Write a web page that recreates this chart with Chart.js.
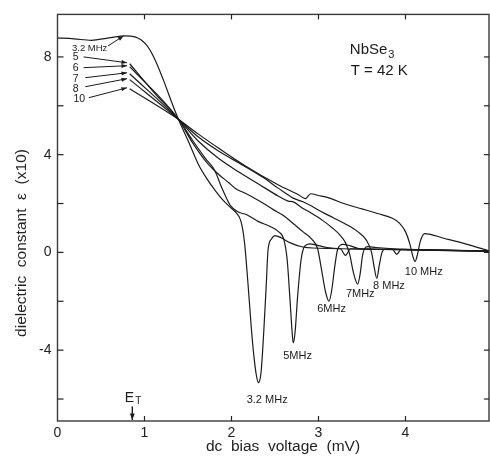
<!DOCTYPE html>
<html><head><meta charset="utf-8">
<script src="https://cdn.jsdelivr.net/npm/chart.js@4/dist/chart.umd.min.js"></script>
<style>html,body{margin:0;padding:0;background:#fff;}canvas{display:block;}</style>
</head><body>
<canvas id="c" width="490" height="462" style="width:490px;height:462px"></canvas>
<script>
// ---- data ----
const seriesNames = ['3.2 MHz','5 MHz','6 MHz','7 MHz','8 MHz','10 MHz'];

const x32 = [0,0.19,0.39,0.59,0.78,0.89,1.01,1.11,1.22,1.30,1.39,1.51,1.62,1.72,1.82,1.90,1.99,2.06,2.11,2.15,2.19,2.24,2.28,2.31,2.34,2.37,2.40,2.42,2.46,2.50,2.57,2.67,2.82,3.10,3.25,3.31,3.37,3.70,4.30,4.96];
const y32 = [8.78,8.74,8.68,8.78,8.86,8.82,8.54,7.97,7.03,6.26,5.45,4.50,3.60,3.00,2.50,2.15,1.83,1.60,1.26,0.40,-1.30,-3.60,-4.90,-5.33,-4.90,-3.30,-1.30,0.10,0.55,0.69,0.60,0.40,0.22,0.16,0.15,-0.12,0.15,0.12,0.10,0.06];

const x5 = [0.83,1.11,1.39,1.55,1.70,1.80,1.90,1.99,2.08,2.17,2.31,2.45,2.54,2.60,2.64,2.67,2.70,2.71,2.73,2.76,2.80,2.84,2.90,2.98,3.10,3.50,3.85,3.90,3.95,4.40,4.96];
const y5 = [7.72,6.54,5.45,4.60,3.85,3.40,2.55,1.90,1.65,1.55,1.26,1.05,0.85,0.55,-0.30,-1.80,-3.40,-3.70,-3.30,-1.80,-0.30,0.25,0.35,0.30,0.20,0.13,0.12,-0.08,0.12,0.09,0.05];

const x6 = [0.83,1.39,1.55,1.70,1.85,1.97,2.05,2.14,2.25,2.37,2.48,2.60,2.72,2.82,2.92,2.99,3.03,3.08,3.12,3.15,3.19,3.22,3.28,3.36,3.46,4.00,4.96];
const y6 = [7.60,5.45,4.50,3.75,3.20,2.85,2.60,2.45,2.25,2.00,1.75,1.50,1.15,0.85,0.55,0.15,-0.60,-1.60,-2.00,-1.60,-0.50,0.12,0.33,0.28,0.16,0.11,0.05];

const x7 = [0.83,1.39,1.62,1.85,2.08,2.31,2.54,2.65,2.71,2.80,2.92,3.05,3.16,3.25,3.31,3.36,3.40,3.45,3.48,3.51,3.57,3.66,4.00,4.96];
const y7 = [7.31,5.45,4.55,3.85,3.30,2.80,2.30,2.10,2.07,1.85,1.60,1.30,1.00,0.70,0.40,-0.10,-0.80,-1.30,-0.85,-0.05,0.24,0.20,0.12,0.05];

const x8 = [0.83,1.39,1.62,1.85,2.14,2.37,2.54,2.71,2.82,2.92,3.03,3.17,3.30,3.45,3.55,3.61,3.64,3.67,3.70,3.73,3.77,3.90,4.96];
const y8 = [7.07,5.45,4.72,4.15,3.55,3.05,2.62,2.22,2.07,1.90,1.67,1.42,1.18,0.85,0.50,0.00,-0.60,-1.06,-0.50,0.00,0.14,0.12,0.05];

const x10 = [0.83,1.39,1.62,1.85,2.16,2.54,2.77,2.85,2.91,3.00,3.11,3.30,3.50,3.68,3.85,3.93,4.00,4.05,4.08,4.11,4.14,4.17,4.22,4.45,4.71,4.96];
const y10 = [6.70,5.45,4.84,4.27,3.54,2.76,2.36,2.20,2.40,2.33,2.24,1.99,1.78,1.59,1.40,1.20,0.85,0.35,-0.10,-0.37,-0.05,0.45,0.77,0.57,0.33,0.06];

const xTickValues = [0,1,2,3,4];
const yTickValues = [-6,-4,-2,0,2,4,6,8];
const yLabelled = [-4,0,4,8];

// annotations (data coordinates)
const startLabels = ['3.2 MHz','5','6','7','8','10'];
const startLabelX = [0.37,0.21,0.21,0.21,0.21,0.25];
const startLabelY = [8.33,8.00,7.56,7.11,6.70,6.29];
const arrowFromX = [0.58,0.30,0.30,0.32,0.32,0.36];
const arrowFromY = [8.45,8.00,7.56,7.15,6.78,6.33];
const arrowToX = [0.76,0.80,0.80,0.80,0.80,0.80];
const arrowToY = [8.86,7.76,7.64,7.35,7.11,6.74];

const dipLabels = ['3.2 MHz','5MHz','6MHz','7MHz','8 MHz','10 MHz'];
const dipLabelX = [2.41,2.76,3.15,3.48,3.81,4.21];
const dipLabelY = [-6.05,-4.25,-2.30,-1.69,-1.36,-0.79];

const xs = [x32,x5,x6,x7,x8,x10];
const ys = [y32,y5,y6,y7,y8,y10];

const datasets = seriesNames.map((n,i)=>({
  label:n,
  data: xs[i].map((x,j)=>({x:x,y:ys[i][j]})),
  showLine:true, borderColor:'#1b1b1b', borderWidth:1.2,
  pointRadius:0, fill:false, cubicInterpolationMode:'monotone'
}));

const FONT = "'Liberation Sans', Arial, sans-serif";

function arrow(ctx,x1,y1,x2,y2,head){
  ctx.beginPath(); ctx.moveTo(x1,y1); ctx.lineTo(x2,y2); ctx.stroke();
  const a=Math.atan2(y2-y1,x2-x1);
  ctx.beginPath();
  ctx.moveTo(x2,y2);
  ctx.lineTo(x2-head*Math.cos(a-0.35),y2-head*Math.sin(a-0.35));
  ctx.lineTo(x2-head*Math.cos(a+0.35),y2-head*Math.sin(a+0.35));
  ctx.closePath(); ctx.fill();
}

const framePlugin = {
  id:'frame',
  afterDatasetsDraw(chart){
    const {ctx, chartArea:{left,right,top,bottom}, scales:{x,y}} = chart;
    ctx.save();
    ctx.strokeStyle='#3a3a3a'; ctx.lineWidth=1.4;
    ctx.strokeRect(left,top,right-left,bottom-top);
    ctx.lineWidth=1.2; ctx.strokeStyle='#222';
    const ln=(a,b,c,d)=>{ctx.beginPath();ctx.moveTo(a,b);ctx.lineTo(c,d);ctx.stroke();};
    xTickValues.forEach(v=>{ if(v===0) return; const p=x.getPixelForValue(v); ln(p,bottom,p,bottom-5); ln(p,top,p,top+5);});
    yTickValues.forEach(v=>{ const p=y.getPixelForValue(v); ln(left,p,left+6,p); ln(right,p,right-5,p);});

    ctx.fillStyle='#1b1b1b'; ctx.strokeStyle='#1b1b1b'; ctx.lineWidth=1;
    // start labels + arrows
    ctx.textAlign='center'; ctx.textBaseline='middle';
    startLabels.forEach((t,i)=>{
      ctx.font = (i===0? '9.5px ':'10.5px ')+FONT;
      ctx.fillText(t, x.getPixelForValue(startLabelX[i]), y.getPixelForValue(startLabelY[i]));
      arrow(ctx, x.getPixelForValue(arrowFromX[i]), y.getPixelForValue(arrowFromY[i]),
                 x.getPixelForValue(arrowToX[i]), y.getPixelForValue(arrowToY[i]), 6);
    });
    // dip labels
    ctx.font='11px '+FONT;
    dipLabels.forEach((t,i)=>{
      ctx.fillText(t, x.getPixelForValue(dipLabelX[i]), y.getPixelForValue(dipLabelY[i]));
    });
    // sample info
    ctx.font='15px '+FONT; ctx.textAlign='left';
    const nx = x.getPixelForValue(3.36), ny = y.getPixelForValue(8.3);
    ctx.fillText('NbSe', nx, ny);
    const w = ctx.measureText('NbSe').width;
    ctx.font='11px '+FONT; ctx.fillText('3', nx+w+1, ny+5);
    ctx.font='15px '+FONT;
    ctx.fillText('T = 42 K', x.getPixelForValue(3.37), y.getPixelForValue(7.43));
    // E_T
    const ex = x.getPixelForValue(0.86);
    ctx.font='14px '+FONT; ctx.textAlign='center';
    ctx.fillText('E', ex-3, y.getPixelForValue(-5.95));
    ctx.font='10px '+FONT; ctx.fillText('T', ex+6, y.getPixelForValue(-6.1));
    ctx.lineWidth=1.4;
    arrow(ctx, ex, y.getPixelForValue(-6.3), ex, bottom-1, 7);
    // axis titles
    ctx.font='15.5px '+FONT; ctx.textAlign='center'; ctx.textBaseline='middle';
    ctx.fillStyle='#222';
    ctx.fillText('dc  bias  voltage  (mV)', 283, 447);
    ctx.save(); ctx.translate(22, 243); ctx.rotate(-Math.PI/2);
    ctx.fillText('dielectric  constant  \u03B5  (x10)', 0, 0);
    ctx.restore();
    ctx.restore();
  }
};

new Chart(document.getElementById('c'), {
  type:'scatter',
  data:{datasets},
  options:{
    responsive:false, animation:false, devicePixelRatio:1,
    layout:{padding:{top:12.5,right:1,left:0,bottom:0}},
    plugins:{legend:{display:false}, tooltip:{enabled:false}},
    scales:{
      x:{type:'linear', min:0, max:4.96,
         afterBuildTicks:s=>{s.ticks = xTickValues.map(v=>({value:v}));},
         afterFit:s=>{s.height=41;},
         grid:{display:false, drawTicks:false}, border:{display:false},
         ticks:{autoSkip:false, padding:4, color:'#222', font:{family:FONT,size:14}, maxRotation:0,
                callback:v=>String(v)}},
      y:{type:'linear', min:-6.9, max:9.74,
         afterBuildTicks:s=>{s.ticks = yTickValues.map(v=>({value:v}));},
         afterFit:s=>{s.width=57.5;},
         grid:{display:false, drawTicks:false}, border:{display:false},
         ticks:{autoSkip:false, padding:6, color:'#222', font:{family:FONT,size:14},
                callback:v=> yLabelled.includes(v) ? String(v) : ''}}
    }
  },
  plugins:[framePlugin]
});
</script>
</body></html>
